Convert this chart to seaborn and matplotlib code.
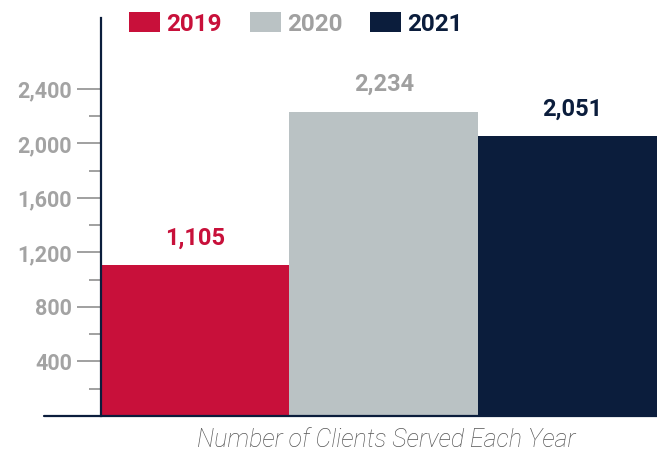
import matplotlib
matplotlib.use("Agg")
import matplotlib.pyplot as plt
import seaborn as sns
import pandas as pd
from matplotlib.patches import Patch

years = ["2019", "2020", "2021"]
clients = [1105, 2234, 2051]
bar_colors = ["#C8103A", "#BAC2C4", "#0B1D3C"]
text_colors = ["#C8103A", "#A0A0A0", "#0B1D3C"]
yticks = [400, 800, 1200, 1600, 2000, 2400]
minor_ticks = [200, 600, 1000, 1400, 1800, 2200]
xlabel = "Number of Clients Served Each Year"

sns.set_theme(style="white")
plt.rcParams["font.family"] = ["Roboto", "DejaVu Sans"]

df = pd.DataFrame({"year": years, "clients": clients})

fig = plt.figure(figsize=(6.57, 4.58), dpi=100)
ax = fig.add_axes([101 / 657, 42 / 458, 556 / 657, 398 / 458])

sns.barplot(data=df, x="year", y="clients", hue="year", order=years,
            hue_order=years, palette=bar_colors, width=1.0, dodge=False,
            legend=False, ax=ax, saturation=1, linewidth=0, edgecolor="none")
ax.set_xlim(-0.5, 2.45)
ax.set_ylim(0, 2920)

for i, (v, c) in enumerate(zip(clients, text_colors)):
    ax.annotate(f"{v:,}", (i, v), xytext=(0, 11), textcoords="offset points",
                ha="center", va="bottom", color=c, fontsize=17,
                fontweight="bold")

for s in ["top", "right"]:
    ax.spines[s].set_visible(False)
ax.spines["left"].set_color("#0B1D3C")
ax.spines["left"].set_linewidth(1.6)
ax.spines["bottom"].set_visible(False)
ax.plot([-57 / 556, 1], [0, 0], transform=ax.transAxes, color="#0B1D3C",
        lw=1.6, clip_on=False, zorder=5)

ax.set_yticks(yticks)
ax.set_yticklabels([f"{t:,}" for t in yticks])
ax.set_yticks(minor_ticks, minor=True)
ax.tick_params(axis="y", which="major", left=True, length=17, width=1.3,
               color="#999999", labelcolor="#A3A3A3", labelsize=15.5, pad=4)
ax.tick_params(axis="y", which="minor", left=True, length=8.5, width=1.3,
               color="#999999")
for t in ax.get_yticklabels():
    t.set_fontweight("bold")
ax.set_xticks([])
ax.set_ylabel("")
ax.set_xlabel(xlabel, fontsize=18, color="#555555", fontstyle="italic",
              fontweight="light")
ax.xaxis.set_label_coords(285 / 556, -24 / 398)
ax.xaxis.label.set_va("center")

handles = [Patch(facecolor=c, edgecolor="none") for c in bar_colors]
leg = fig.legend(handles, years, ncol=3, loc="center left",
                 bbox_to_anchor=(129 / 657, 1 - 24 / 458), frameon=False,
                 handlelength=1.28, handleheight=0.9, handletextpad=0.25,
                 columnspacing=1.15, borderaxespad=0, borderpad=0,
                 prop={"weight": "bold", "size": 17.5})
for t, c in zip(leg.get_texts(), text_colors):
    t.set_color(c)

fig.savefig("out.png", dpi=100)
